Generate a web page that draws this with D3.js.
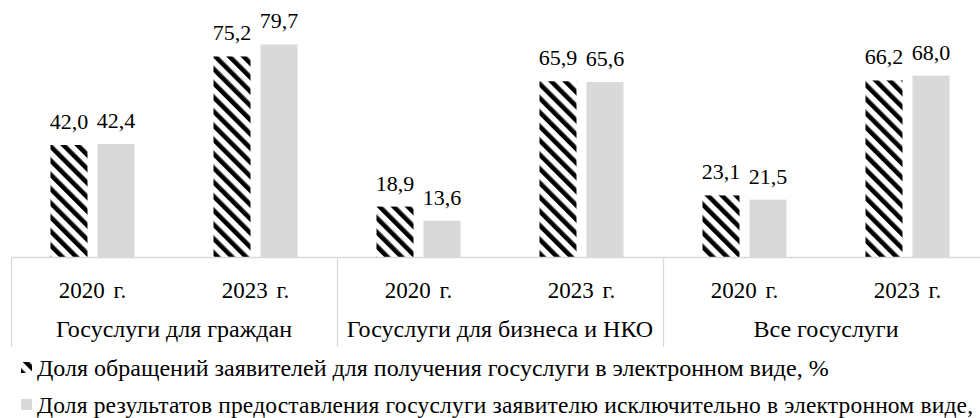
<!DOCTYPE html>
<html><head><meta charset="utf-8"><script src="https://cdn.jsdelivr.net/npm/d3@7"></script></head>
<body style="margin:0">
<svg id="chart" width="980" height="418" style="display:block"></svg>
<script>
const groups = ["Госуслуги для граждан", "Госуслуги для бизнеса и НКО", "Все госуслуги"];
const years = ["2020 г.", "2023 г."];
const seriesNames = [
  "Доля обращений заявителей для получения госуслуги в электронном виде, %",
  "Доля результатов предоставления госуслуги заявителю исключительно в электронном виде,"
];
// values per group per year: [2020, 2023]
const appealsShare = [[42.0, 75.2], [18.9, 65.9], [23.1, 66.2]];
const resultsShare = [[42.4, 79.7], [13.6, 65.6], [21.5, 68.0]];

const FONT = '"Liberation Serif", "Times New Roman", serif';
const svg = d3.select("#chart");
const defs = svg.append("defs");
const pat = defs.append("pattern")
  .attr("id", "hatch")
  .attr("patternUnits", "userSpaceOnUse")
  .attr("width", 10).attr("height", 10)
  .attr("patternTransform", "rotate(-45)");
pat.append("rect").attr("width", 10).attr("height", 10).attr("fill", "#fff");
pat.append("rect").attr("x", 0).attr("width", 4.6).attr("height", 10).attr("fill", "#000");

const cats = [];
groups.forEach((g, gi) => years.forEach((yr, yi) => cats.push({ g, gi, yr, yi, key: gi + "|" + yi })));

const left = 11, baseY = 257;
const x = d3.scaleBand().domain(cats.map(c => c.key)).range([left, left + 6 * 163]).paddingInner(0).paddingOuter(0);
const xGroup = d3.scaleBand().domain(groups).range([left, left + 6 * 163]);
const x1 = d3.scaleBand().domain([0, 1]).range([0, x.bandwidth()]).paddingInner(0.213).paddingOuter(0.84);
const y = d3.scaleLinear().domain([0, 90]).range([baseY, baseY - 240]);

const fills = ["url(#hatch)", "#d9d9d9"];
const data = [];
cats.forEach(c => {
  data.push({ c, s: 0, v: appealsShare[c.gi][c.yi] });
  data.push({ c, s: 1, v: resultsShare[c.gi][c.yi] });
});

const fmt = v => v.toFixed(1).replace(".", ",");

svg.append("g").selectAll("rect").data(data).join("rect")
  .attr("x", d => x(d.c.key) + x1(d.s))
  .attr("width", x1.bandwidth())
  .attr("y", d => y(d.v))
  .attr("height", d => y(0) - y(d.v))
  .attr("fill", d => fills[d.s]);

svg.append("g").selectAll("text").data(data).join("text")
  .style("font-family", FONT)
  .attr("x", d => x(d.c.key) + x1(d.s) + x1.bandwidth() / 2)
  .attr("y", d => y(d.v) - 16)
  .attr("text-anchor", "middle")
  .attr("font-size", 22)
  .text(d => fmt(d.v));

// axis line
const axisG = svg.append("g");
axisG.append("line")
  .attr("x1", left).attr("x2", 980)
  .attr("y1", y(0) + 0.5).attr("y2", y(0) + 0.5)
  .attr("stroke", "#d9d9d9").attr("stroke-width", 1.3);
// group separators
const seps = groups.map(g => xGroup(g));
axisG.selectAll("line.sep").data(seps).join("line")
  .attr("class", "sep")
  .attr("x1", d => d + 0.5).attr("x2", d => d + 0.5)
  .attr("y1", y(0)).attr("y2", 347)
  .attr("stroke", "#d9d9d9").attr("stroke-width", 1.3);

// year labels
axisG.selectAll("text.yr").data(cats).join("text")
  .attr("class", "yr")
  .style("font-family", FONT)
  .attr("x", d => x(d.key) + x.bandwidth() / 2)
  .attr("y", 298)
  .attr("text-anchor", "middle")
  .attr("font-size", 23)
  .attr("word-spacing", 3)
  .text(d => d.yr);

// group labels
axisG.selectAll("text.grp").data(groups).join("text")
  .attr("class", "grp")
  .style("font-family", FONT)
  .attr("x", d => xGroup(d) + xGroup.bandwidth() / 2)
  .attr("y", 337)
  .attr("text-anchor", "middle")
  .attr("font-size", 24)
  .text(d => d);

// legend
const leg = svg.append("g");
const legY = [368, 405];
seriesNames.forEach((name, i) => {
  leg.append("rect")
    .attr("x", 21).attr("y", legY[i] - 6)
    .attr("width", 11).attr("height", 11)
    .attr("fill", fills[i]);
  const t = leg.append("text")
    .style("font-family", FONT)
    .attr("x", 37).attr("y", legY[i] + 8)
    .attr("font-size", i === 0 ? 24 : 23.5)
    .text(name);
  if (i === 1) t.attr("textLength", 936).attr("lengthAdjust", "spacing");
});
</script>
</body>
</html>
